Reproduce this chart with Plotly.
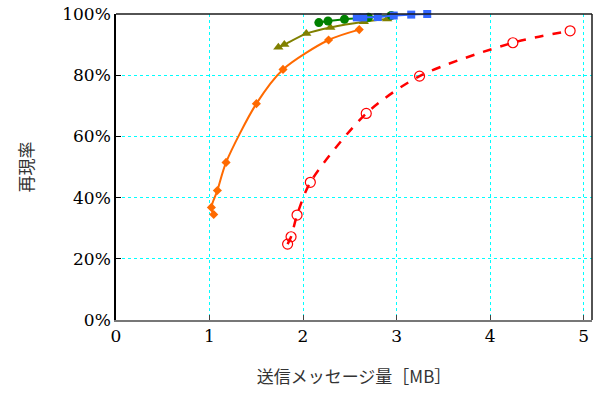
import plotly.graph_objects as go

# Recall vs. transmitted message volume for five methods
red_mb = [1.835, 1.872, 1.936, 2.078, 2.676, 3.246, 4.244, 4.856]
red_recall = [0.248, 0.272, 0.343, 0.450, 0.675, 0.797, 0.906, 0.945]

orange_mb = [1.045, 1.020, 1.084, 1.177, 1.501, 1.786, 2.273, 2.601]
orange_recall = [0.345, 0.368, 0.423, 0.515, 0.707, 0.819, 0.915, 0.949]

olive_mb = [1.736, 1.800, 2.035, 2.292, 2.650, 2.900]
olive_recall = [0.891, 0.900, 0.936, 0.956, 0.975, 0.984]

green_mb = [2.169, 2.267, 2.443, 2.700, 2.943]
green_recall = [0.972, 0.977, 0.983, 0.989, 0.995]

blue_mb = [2.575, 2.644, 2.799, 2.970, 3.157, 3.328]
blue_recall = [0.989, 0.989, 0.990, 0.995, 0.998, 1.000]

x_ticks = [0, 1, 2, 3, 4, 5]
y_ticks = [0, 0.2, 0.4, 0.6, 0.8, 1.0]
y_tick_text = ["0%", "20%", "40%", "60%", "80%", "100%"]

fig = go.Figure()

fig.add_trace(go.Scatter(
    x=red_mb, y=red_recall, mode="lines+markers",
    line=dict(color="#ff0000", width=2.5, dash="dash", shape="spline", smoothing=0.8),
    marker=dict(symbol="circle-open", size=10, color="#ff0000", line=dict(width=1.2)),
    cliponaxis=False, showlegend=False))

fig.add_trace(go.Scatter(
    x=orange_mb, y=orange_recall, mode="lines+markers",
    line=dict(color="#ff6a00", width=2, shape="spline", smoothing=0.8),
    marker=dict(symbol="diamond", size=7, color="#ff6a00"),
    cliponaxis=False, showlegend=False))

fig.add_trace(go.Scatter(
    x=olive_mb, y=olive_recall, mode="lines+markers",
    line=dict(color="#808000", width=2, shape="spline", smoothing=0.8),
    marker=dict(symbol="triangle-up", size=9, color="#808000"),
    cliponaxis=False, showlegend=False))

fig.add_trace(go.Scatter(
    x=green_mb, y=green_recall, mode="lines+markers",
    line=dict(color="#008000", width=2, shape="spline", smoothing=0.8),
    marker=dict(symbol="circle", size=9, color="#008000"),
    cliponaxis=False, showlegend=False))

fig.add_trace(go.Scatter(
    x=blue_mb, y=blue_recall, mode="lines+markers",
    line=dict(color="#3366ff", width=2, shape="spline", smoothing=0.8),
    marker=dict(symbol="square", size=8, color="#3366ff"),
    cliponaxis=False, showlegend=False))

serif = "DejaVu Serif"
tick_font = dict(family=serif, size=17, color="#000000")
title_font = dict(family="Noto Sans CJK JP", size=17, color="#333333")

fig.update_layout(
    width=608, height=396,
    font=dict(family=serif, size=17, color="#000000"),
    margin=dict(l=116, r=16, t=14, b=76),
    paper_bgcolor="white", plot_bgcolor="white",
    xaxis=dict(
        range=[0, 5.09], tickmode="array", tickvals=x_ticks,
        ticktext=[str(v) for v in x_ticks],
        showgrid=True, gridcolor="#00ffff", griddash="3px,3px", gridwidth=1,
        zeroline=False, showline=True, linecolor="#777777", linewidth=1.5,
        ticks="inside", ticklen=5, tickcolor="#444444",
        tickfont=tick_font, automargin=False,
        title=dict(text="送信メッセージ量［MB］", font=title_font, standoff=26),
    ),
    yaxis=dict(
        range=[0, 1.0], tickmode="array", tickvals=y_ticks, ticktext=y_tick_text,
        showgrid=True, gridcolor="#00ffff", griddash="3px,3px", gridwidth=1,
        zeroline=False, showline=True, linecolor="#000000", linewidth=1.5,
        ticks="inside", ticklen=5, tickcolor="#000000",
        tickfont=tick_font, automargin=False,
        title=dict(text="再現率", font=title_font, standoff=24),
    ),
    shapes=[
        dict(type="line", xref="paper", yref="paper", x0=0, x1=1, y0=1, y1=1,
             line=dict(color="#1a1a1a", width=1.5)),
        dict(type="line", xref="paper", yref="paper", x0=1, x1=1, y0=0, y1=1,
             line=dict(color="#1a1a1a", width=1.5)),
    ],
)

fig.write_html("out.html")
